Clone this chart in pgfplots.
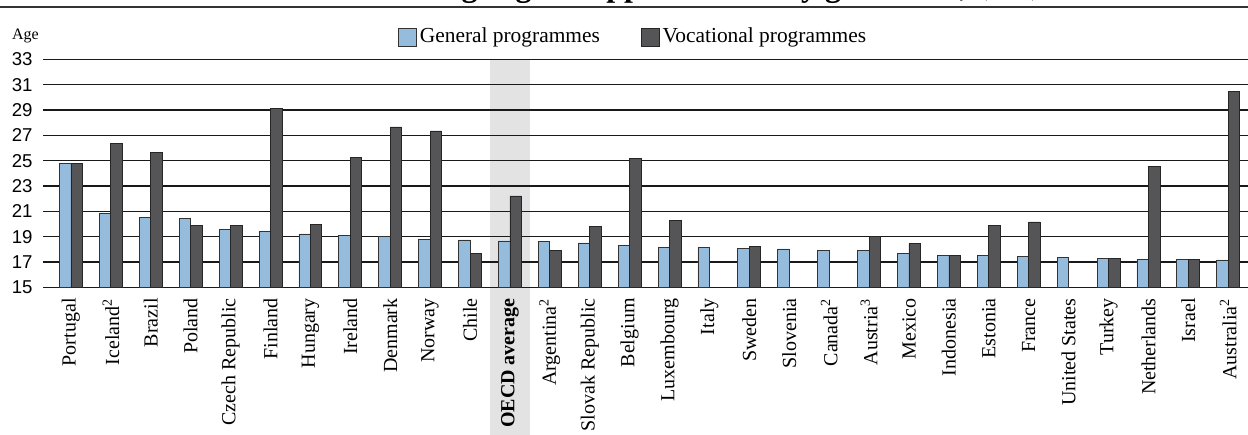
\documentclass[border=0pt]{standalone}
\usepackage{fontspec}
\setmainfont{Liberation Serif}
\newfontfamily\ticksans{Liberation Sans}
\usepackage{pgfplots}
\pgfplotsset{compat=1.18}
\definecolor{genblue}{RGB}{149,187,221}
\definecolor{vocdark}{RGB}{85,85,87}
\definecolor{bandgray}{RGB}{226,227,226}
\begin{document}
\begin{tikzpicture}
\begin{axis}[
  set layers=standard,
  at={(0pt,0pt)}, anchor=south west,
  scale only axis, width=603pt, height=114pt,
  xmin=-0.7, xmax=29.52, ymin=15, ymax=33,
  clip=false,
  axis line style={draw=none},
  ytick={15,17,...,33},
  ymajorgrids, grid style={black!90, line width=0.55pt},
  major tick length=0pt,
  /pgf/number format/assume math mode=true,
  yticklabel style={font=\ticksans\fontsize{9.3}{10}\selectfont, xshift=-1.7pt},
  xtick={0,...,29},
  xticklabels={Portugal, Iceland\textsuperscript{2}, Brazil, Poland, Czech Republic, Finland, Hungary, Ireland, Denmark, Norway, Chile, \textbf{OECD average}, Argentina\textsuperscript{2}, Slovak Republic, Belgium, Luxembourg, Italy, Sweden, Slovenia, Canada\textsuperscript{2}, Austria\textsuperscript{3}, Mexico, Indonesia, Estonia, France, United States, Turkey, Netherlands, Israel, Australia\textsuperscript{2}},
  xticklabel style={rotate=90, anchor=east, font=\fontsize{10}{12}\selectfont, yshift=0pt, xshift=-2pt},
  ybar, bar width=0.2875,
  legend image code/.code={\draw[#1] (0pt,-4.5pt) rectangle (9pt,4.5pt);},
  legend columns=2,
  legend style={draw=none, fill=none, inner sep=0pt, outer sep=0pt,
    at={(0.2944,1.0978)}, anchor=west,
    font=\fontsize{10.7}{12}\selectfont,
    nodes={inner sep=0.5pt},
    /tikz/column sep=1pt,
    /tikz/every even column/.append style={column sep=20pt}},
]
\begin{pgfonlayer}{axis background}
\fill[bandgray] (axis cs:10.5,33) rectangle ([yshift=-80pt]axis cs:11.5,15);
\end{pgfonlayer}
\addplot[fill=genblue, draw=black!80, line width=0.4pt, bar shift=-0.14375] coordinates {
(0,24.8) (1,20.85) (2,20.55) (3,20.42) (4,19.58) (5,19.39) (6,19.21) (7,19.11) (8,19.0) (9,18.8)
(10,18.74) (11,18.66) (12,18.6) (13,18.5) (14,18.32) (15,18.17) (16,18.16) (17,18.1) (18,18.03) (19,17.93)
(20,17.89) (21,17.66) (22,17.55) (23,17.5) (24,17.42) (25,17.34) (26,17.26) (27,17.21) (28,17.18) (29,17.16)};
\addplot[fill=vocdark, draw=black!85, line width=0.4pt, bar shift=0.14375] coordinates {
(0,24.8) (1,26.37) (2,25.63) (3,19.89) (4,19.9) (5,29.13) (6,19.97) (7,25.26) (8,27.66) (9,27.34)
(10,17.68) (11,22.21) (12,17.92) (13,19.82) (14,25.18) (15,20.26) (17,18.21)
(20,19.05) (21,18.45) (22,17.55) (23,19.87) (24,20.16) (26,17.29) (27,24.55) (28,17.21) (29,30.47)};
\legend{General programmes, Vocational programmes}
\end{axis}
\node[anchor=base west, inner sep=0pt, font=\fontsize{8}{9}\selectfont] at (-15.7pt,124pt) {Age};
\draw[black!80, line width=1pt] (-21.5pt,139.9pt) -- (602.5pt,139.9pt);
\node[anchor=base west, inner sep=0pt] at (168.5pt,145.4pt) {\fontsize{16}{18}\selectfont\bfseries Average age of upper secondary graduates,\hspace{6pt}\mdseries\fontsize{11}{13}\selectfont (2010)};
\pgfresetboundingbox
\useasboundingbox (-21.5pt,-73.4pt) rectangle (602.5pt,143.65pt);
\end{tikzpicture}
\end{document}
